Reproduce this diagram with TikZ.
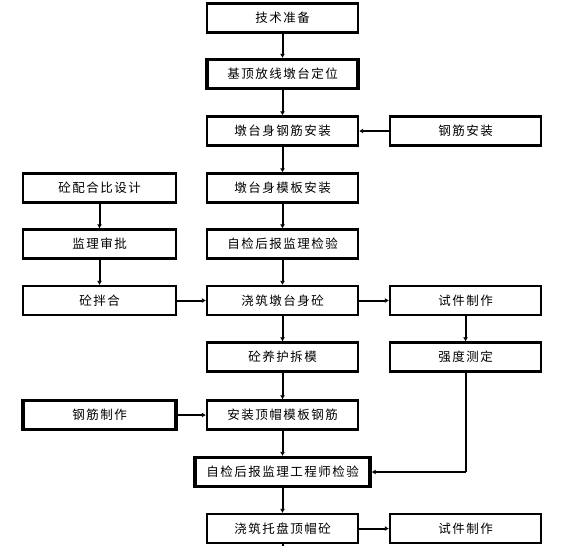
\documentclass[tikz,border=0pt]{standalone}
\usepackage{fontspec}
\newfontfamily\cjk[LetterSpace=12]{Noto Sans CJK SC}
\usetikzlibrary{arrows.meta}
\begin{document}
\begin{tikzpicture}[x=1pt,y=-1pt,
  box/.style={draw,line width=2.2pt,minimum width=151pt,minimum height=29pt,inner sep=0pt,font=\cjk\fontsize{12.5}{14}\selectfont},
  thickbox/.style={box,line width=3.2pt},
  conn/.style={line width=2pt,-{Latex[length=4pt,width=5pt]}},
  plain/.style={line width=2pt}]
\useasboundingbox (0,0) rectangle (577,546);
% main column
\node[box] (a1) at (282.5,18) {技术准备};
\node[thickbox] (a2) at (282.5,74) {基顶放线墩台定位};
\node[box] (a3) at (282.5,131) {墩台身钢筋安装};
\node[box] (a4) at (282.5,188) {墩台身模板安装};
\node[box] (a5) at (282.5,244) {自检后报监理检验};
\node[box] (a6) at (282.5,300.5) {浇筑墩台身砼};
\node[box] (a7) at (282.5,357) {砼养护拆模};
\node[box] (a8) at (282.5,415) {安装顶帽模板钢筋};
\node[thickbox,minimum width=175pt] (a9) at (282.5,472) {自检后报监理工程师检验};
\node[box] (a10) at (282.5,528.5) {浇筑托盘顶帽砼};
% right column
\node[box] (r1) at (465.5,131) {钢筋安装};
\node[box] (r2) at (465.5,300.5) {试件制作};
\node[box] (r3) at (465.5,357) {强度测定};
\node[box] (r4) at (465.5,528.5) {试件制作};
% left column
\node[box,minimum width=153pt] (l1) at (99.5,188) {砼配合比设计};
\node[box,minimum width=153pt] (l2) at (99.5,244) {监理审批};
\node[box,minimum width=153pt] (l3) at (99.5,300.5) {砼拌合};
\node[thickbox,minimum width=153pt] (l4) at (99.5,415) {钢筋制作};
\coordinate (bend) at (466,472);
\coordinate (bot) at (282.5,546);
% connectors
\draw[conn] (a1) -- (a2);
\draw[conn] (a2) -- (a3);
\draw[conn] (a3) -- (a4);
\draw[conn] (a4) -- (a5);
\draw[conn] (a5) -- (a6);
\draw[conn] (a6) -- (a7);
\draw[conn] (a7) -- (a8);
\draw[conn] (a8) -- (a9);
\draw[conn] (a9) -- (a10);
\draw[plain] (a10) -- (bot);
\draw[conn] (r1) -- (a3);
\draw[conn] (a6) -- (r2);
\draw[conn] (r2) -- (r3);
\draw[plain] (r3.south -| bend) -- (bend);
\draw[conn] (bend) -- (a9.east);
\draw[conn] (a10) -- (r4);
\draw[conn] (l1) -- (l2);
\draw[conn] (l2) -- (l3);
\draw[conn] (l3) -- (a6);
\draw[conn] (l4) -- (a8);
\end{tikzpicture}
\end{document}
